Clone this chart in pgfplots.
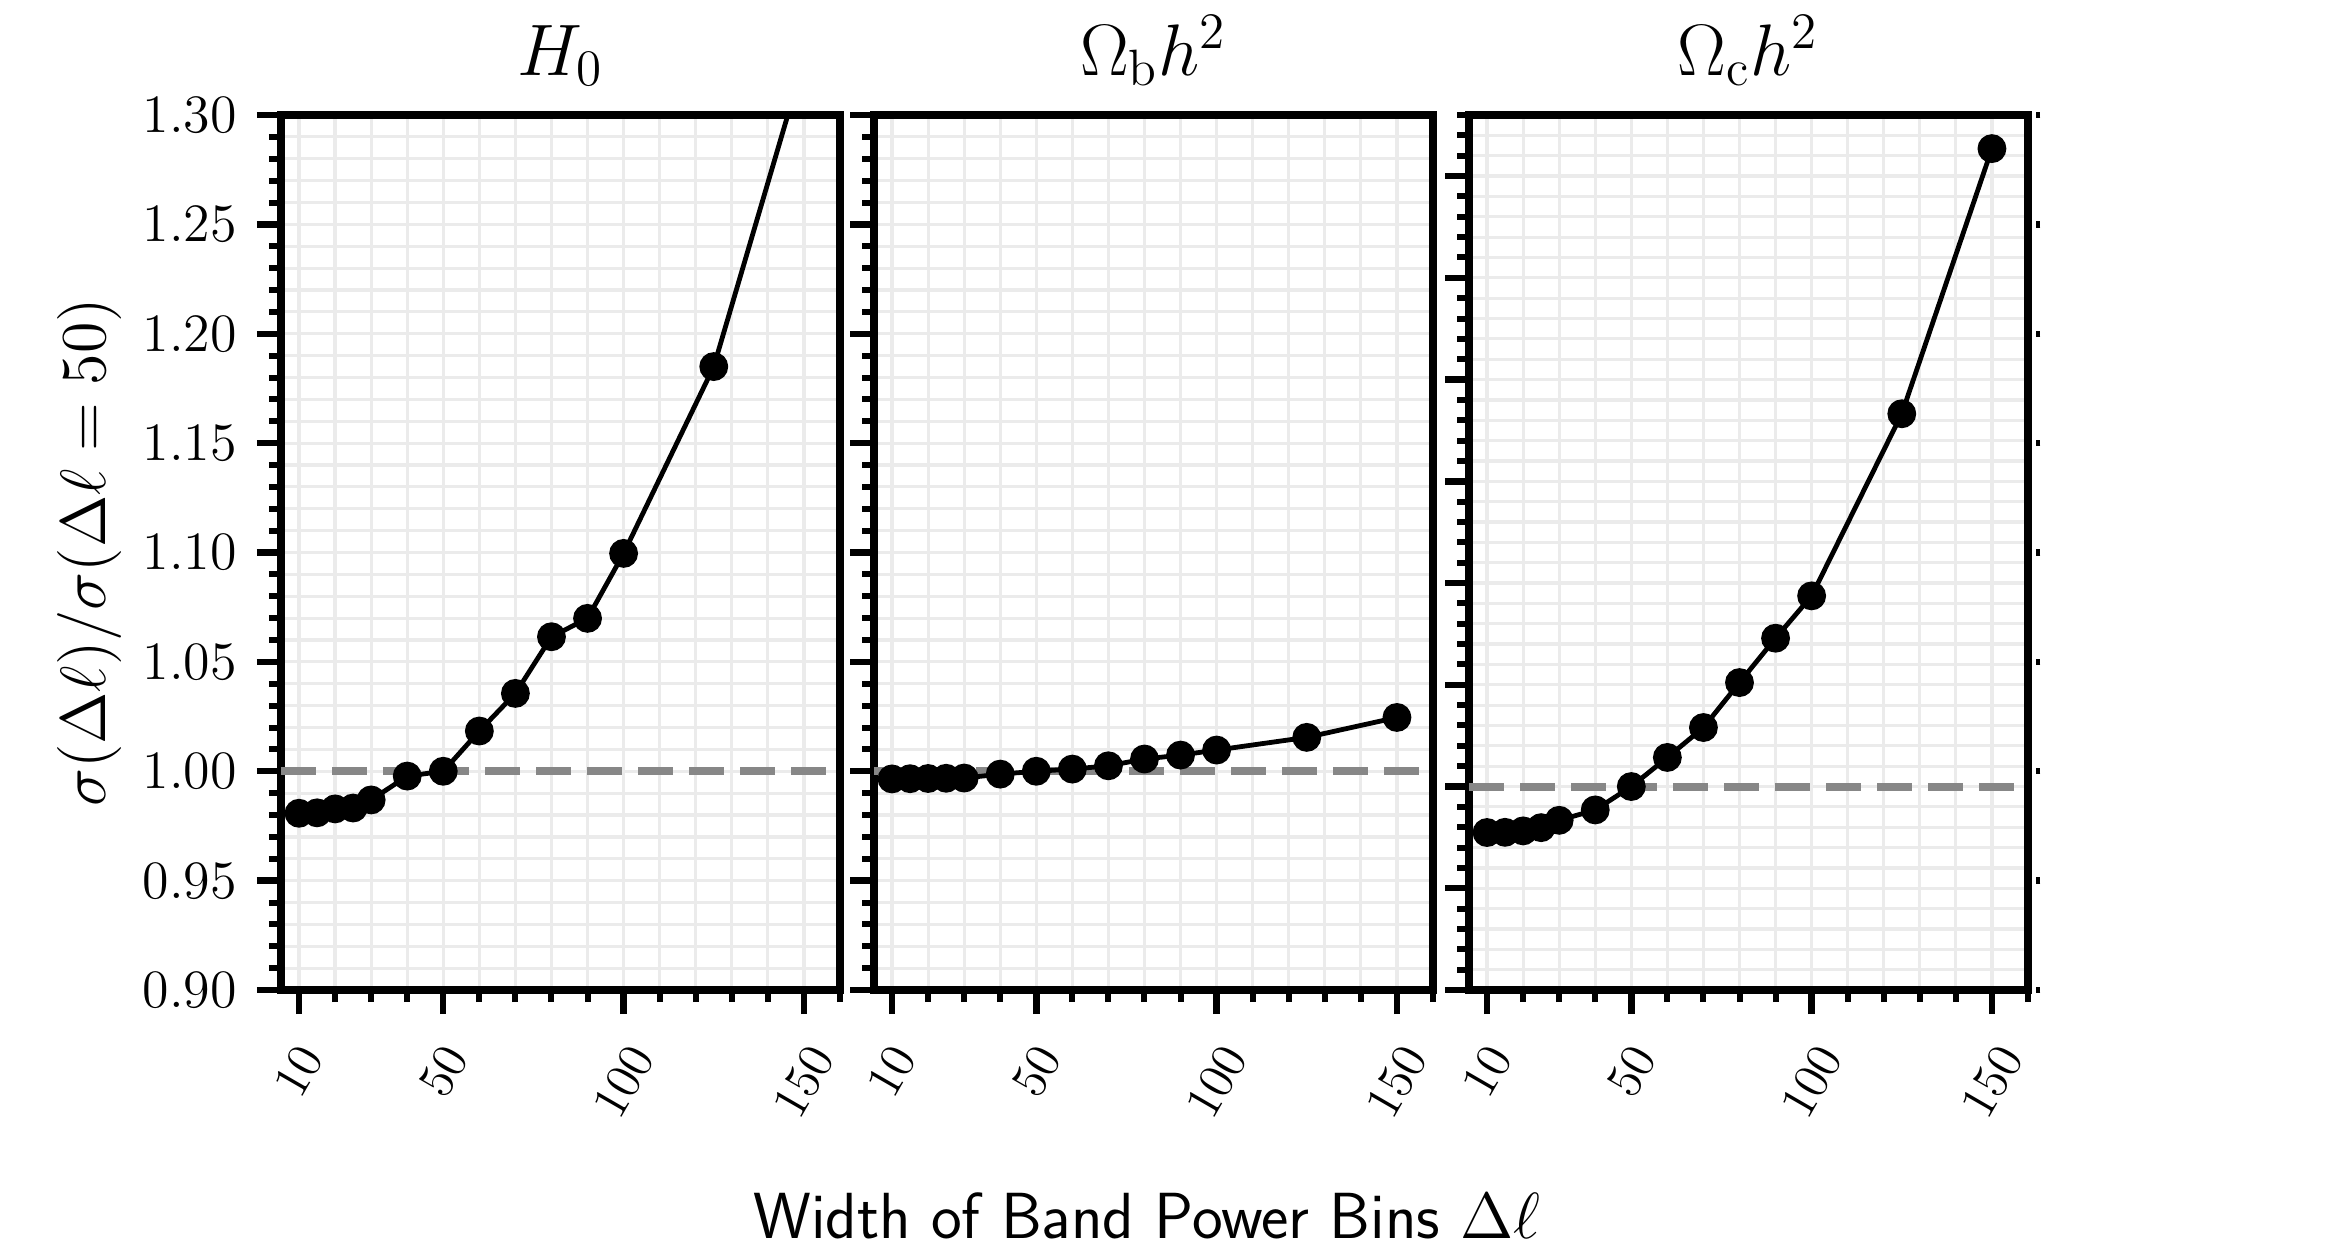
\RequirePackage{fix-cm}
\documentclass[border=0pt]{standalone}
\usepackage{graphicx}
\usepackage{pgfplots}
\pgfplotsset{compat=1.18}
\definecolor{gridc}{RGB}{235,235,235}
\definecolor{dashc}{RGB}{135,135,135}

\pgfplotstableread{
x y
10 0.9808
15 0.9810
20 0.9828
25 0.9832
30 0.9869
40 0.9978
50 1.0000
60 1.0184
70 1.0356
80 1.0615
90 1.0699
100 1.0996
125 1.1850
150 1.3250
}\tabH

\pgfplotstableread{
x y
10 0.9965
15 0.9966
20 0.9967
25 0.9968
30 0.9969
40 0.9987
50 1.0000
60 1.0010
70 1.0025
80 1.0056
90 1.0074
100 1.0097
125 1.0155
150 1.0246
}\tabB

\pgfplotstableread{
x y
10 0.9774
15 0.9775
20 0.9782
25 0.9798
30 0.9834
40 0.9885
50 1.0000
60 1.0143
70 1.0290
80 1.0511
90 1.0729
100 1.0937
125 1.1832
150 1.3135
}\tabC

\pgfplotsset{
  panel/.style={
    scale only axis, width=139.75pt, height=218.75pt,
    xmin=5, xmax=160,
    xtick={10,50,100,150},
    minor xtick={20,30,40,60,70,80,90,110,120,130,140,160},
    ytick={0.90,0.95,1.00,1.05,1.10,1.15,1.20,1.25,1.30},
    grid=both,
    major grid style={gridc, line width=0.8pt},
    minor grid style={gridc, line width=0.8pt},
    axis line style={line width=2pt, black},
    tick align=outside,
    xtick pos=bottom, ytick pos=left,
    major tick length=6pt, minor tick length=3pt,
    major tick style={line width=1.6pt, black},
    minor tick style={line width=1.5pt, black},
    xticklabel style={font=\fontsize{12.5}{15}\selectfont, anchor=north, yshift=-3.5pt},
    yticklabel style={font=\fontsize{13.5}{16}\selectfont, xshift=-1.5pt,
      /pgf/number format/.cd, fixed, fixed zerofill, precision=2},
    xticklabel={\rotatebox{60}{$\pgfmathprintnumber{\tick}$}},
    clip=true,
  },
  dataline/.style={black, line width=1.2pt, mark=*, mark size=3pt, mark options={solid, fill=black}},
  refline/.style={dashc, line width=2pt, dash pattern=on 8.75pt off 4pt, forget plot},
}

\begin{document}
\begin{tikzpicture}
\useasboundingbox (-70.25pt,-64.25pt) rectangle (515pt,247.5pt);

% Panel 1
\begin{axis}[panel, at={(0pt,0pt)}, anchor=south west,
  ymin=0.90, ymax=1.30,
  minor ytick={0.91,0.92,0.93,0.94,0.96,0.97,0.98,0.99,1.01,1.02,1.03,1.04,1.06,1.07,1.08,1.09,1.11,1.12,1.13,1.14,1.16,1.17,1.18,1.19,1.21,1.22,1.23,1.24,1.26,1.27,1.28,1.29}]
\addplot[refline] coordinates {(5,1) (160,1)};
\addplot[dataline] table[x=x, y=y] {\tabH};
\end{axis}

% Panel 2
\begin{axis}[panel, at={(148.25pt,0pt)}, anchor=south west,
  ymin=0.90, ymax=1.30, yticklabels={},
  minor ytick={0.91,0.92,0.93,0.94,0.96,0.97,0.98,0.99,1.01,1.02,1.03,1.04,1.06,1.07,1.08,1.09,1.11,1.12,1.13,1.14,1.16,1.17,1.18,1.19,1.21,1.22,1.23,1.24,1.26,1.27,1.28,1.29}]
\addplot[refline] coordinates {(5,1) (160,1)};
\addplot[dataline] table[x=x, y=y] {\tabB};
\end{axis}

% Panel 3
\begin{axis}[panel, at={(297pt,0pt)}, anchor=south west,
  ymin=0.90, ymax=1.33, yticklabels={},
  minor ytick={0.91,0.92,0.93,0.94,0.96,0.97,0.98,0.99,1.01,1.02,1.03,1.04,1.06,1.07,1.08,1.09,1.11,1.12,1.13,1.14,1.16,1.17,1.18,1.19,1.21,1.22,1.23,1.24,1.26,1.27,1.28,1.29,1.31,1.32,1.33}]
\addplot[refline] coordinates {(5,1) (160,1)};
\addplot[dataline] table[x=x, y=y] {\tabC};
\end{axis}

% Panel 3 right-hand small ticks (shared scale)
\begin{axis}[scale only axis, width=139.75pt, height=218.75pt,
  at={(299.5pt,0pt)}, anchor=south west,
  xmin=5, xmax=160, ymin=0.90, ymax=1.30,
  hide x axis, axis y line*=right,
  y axis line style={draw=none},
  ytick={0.90,0.95,1.00,1.05,1.10,1.15,1.20,1.25,1.30},
  yticklabels={}, tick align=center,
  major tick length=1.2pt,
  major tick style={line width=1.6pt, black}]
\addplot[draw=none, forget plot] coordinates {(10,1)};
\end{axis}

% Titles
\node[anchor=base, font=\fontsize{18.25}{21}\selectfont] at (69.9pt,228.75pt) {$H_0$};
\node[anchor=base, font=\fontsize{18.25}{21}\selectfont] at (218.1pt,228.75pt) {$\Omega_{\mathrm{b}}h^2$};
\node[anchor=base, font=\fontsize{18.25}{21}\selectfont] at (366.75pt,228.75pt) {$\Omega_{\mathrm{c}}h^2$};

% Axis labels
\node[rotate=90, anchor=base, font=\fontsize{16}{19}\selectfont] at (-43.75pt,109.4pt) {$\sigma(\Delta\ell)/\sigma(\Delta\ell=50)$};
\node[anchor=base, font=\fontsize{16.3}{19}\selectfont\sffamily] at (216.5pt,-62pt) {Width of Band Power Bins $\Delta\ell$};
\end{tikzpicture}
\end{document}
